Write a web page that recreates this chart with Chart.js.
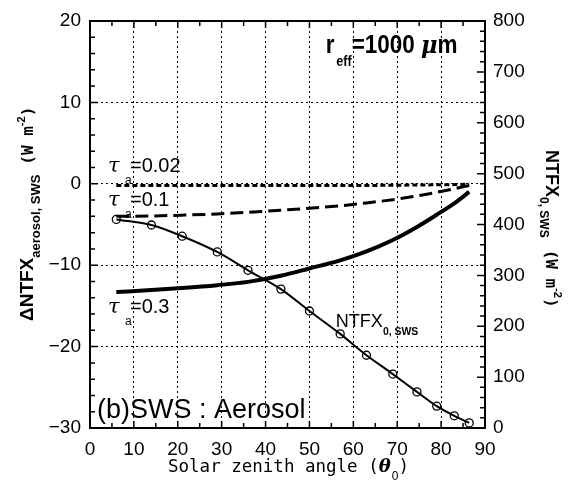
<!DOCTYPE html>
<html>
<head>
<meta charset="utf-8">
<script src="https://cdn.jsdelivr.net/npm/chart.js@4.4.0/dist/chart.umd.min.js"></script>
<style>
  html, body { margin: 0; padding: 0; background: #fff; }
  canvas { display: block; }
</style>
</head>
<body>
<canvas id="aerosol_plot" width="573" height="490"></canvas>
<script>
'use strict';

// solar zenith angles (deg) of the computed points
const angles = [6, 14, 21, 29, 36, 43.5, 50, 57, 63, 69, 74.5, 79, 83, 86.4];
// NTFX_0,SWS on right axis (W m-2)
const ntfx0 = [410, 399, 377, 346, 310, 273, 230, 185, 143, 106, 71, 43, 24, 10];
// delta NTFX (W m-2) for each aerosol optical thickness
const dTau002 = [-0.2, -0.2, -0.2, -0.2, -0.2, -0.2, -0.2, -0.2, -0.2, -0.18, -0.15, -0.12, -0.1, -0.05];
const dTau01 = [-4.0, -3.95, -3.85, -3.7, -3.5, -3.25, -3.0, -2.7, -2.35, -1.95, -1.5, -1.05, -0.6, -0.2];
const dTau03 = [-13.3, -13.05, -12.8, -12.45, -12.05, -11.3, -10.4, -9.4, -8.3, -6.9, -5.3, -3.8, -2.4, -1.0];

const xTicks = [0, 10, 20, 30, 40, 50, 60, 70, 80, 90];
const leftTicks = [-30, -20, -10, 0, 10, 20];
const rightTicks = [0, 100, 200, 300, 400, 500, 600, 700, 800];

const pts = (ys) => angles.map((a, i) => ({ x: a, y: ys[i] }));
const tickFont = { family: 'Liberation Sans', size: 19 };

// grid only on inner tick values
const innerGrid = (lo, hi) => (ctx) =>
    (ctx.tick && (ctx.tick.value === lo || ctx.tick.value === hi)) ? 'rgba(0,0,0,0)' : '#000';

function richText(ctx, x, y, rot, segs, sx) {
    ctx.save();
    ctx.translate(x, y);
    ctx.rotate(rot);
    ctx.scale(sx || 1, 1);
    ctx.fillStyle = '#000';
    ctx.textBaseline = 'alphabetic';
    ctx.textAlign = 'left';
    let cx = 0;
    segs.forEach(s => {
        ctx.font = s.f;
        if (s.x !== undefined) cx = s.x;
        ctx.fillText(s.t, cx, s.dy || 0);
        cx += ctx.measureText(s.t).width + (s.gap || 0);
    });
    ctx.restore();
}

const decorPlugin = {
    id: 'decor',
    afterDraw(chart) {
        const ctx = chart.ctx;
        const { x, y, y1 } = chart.scales;
        const area = chart.chartArea;

        // inward minor / major ticks
        ctx.save();
        ctx.strokeStyle = '#000';
        ctx.lineWidth = 1.5;
        ctx.beginPath();
        for (let v = 5; v < 90; v += 5) {
            const px = x.getPixelForValue(v);
            const len = v % 10 === 0 ? 7 : 5;
            ctx.moveTo(px, area.bottom); ctx.lineTo(px, area.bottom - len);
            ctx.moveTo(px, area.top); ctx.lineTo(px, area.top + len);
        }
        for (let v = -28; v < 20; v += 2) {
            const py = y.getPixelForValue(v);
            const len = v % 10 === 0 ? 8 : 5;
            ctx.moveTo(area.left, py); ctx.lineTo(area.left + len, py);
        }
        for (let v = 20; v < 800; v += 20) {
            const py = y1.getPixelForValue(v);
            const len = v % 100 === 0 ? 8 : 5;
            ctx.moveTo(area.right, py); ctx.lineTo(area.right - len, py);
        }
        ctx.stroke();
        ctx.restore();

        const at = (xv, yv) => [x.getPixelForValue(xv), y.getPixelForValue(yv)];
        const tau = 'italic 21px "DejaVu Serif"';
        const sub = '12px "Liberation Sans"';
        const num = '20px "Liberation Sans"';

        let p = at(4.1, 1.45);
        richText(ctx, p[0], p[1], 0, [
            { t: 'τ', f: tau }, { t: 'a', f: sub, x: 17, dy: 12 }, { t: '=0.02', f: num, x: 22 }]);
        p = at(4.1, -2.75);
        richText(ctx, p[0], p[1], 0, [
            { t: 'τ', f: tau }, { t: 'a', f: sub, x: 17, dy: 12 }, { t: '=0.1', f: num, x: 22 }]);
        p = at(4.1, -15.85);
        richText(ctx, p[0], p[1], 0, [
            { t: 'τ', f: tau }, { t: 'a', f: sub, x: 17, dy: 12 }, { t: '=0.3', f: num, x: 22 }]);

        p = at(56, -17.6);
        richText(ctx, p[0], p[1], 0, [
            { t: 'NTFX', f: '19px "Liberation Sans"' },
            { t: '0, SWS', f: 'bold 11px "Liberation Sans"', dy: 8 }], 0.95);

        p = at(53.7, 16.1);
        richText(ctx, p[0], p[1], 0, [
            { t: 'r', f: 'bold 25px "Liberation Sans"', gap: 2 },
            { t: 'eff', f: 'bold 14px "Liberation Sans"', dy: 13, gap: 0 },
            { t: '=1000 ', f: 'bold 25px "Liberation Sans"' },
            { t: 'μ', f: 'italic bold 25px "DejaVu Serif"' },
            { t: 'm', f: 'bold 25px "Liberation Sans"' }], 0.9);

        p = at(1.6, -28.8);
        richText(ctx, p[0], p[1], 0, [{ t: '(b)SWS : Aerosol', f: '27px "Liberation Sans"' }]);

        // axis titles
        richText(ctx, 33, 321, -Math.PI / 2, [
            { t: 'ΔNTFX', f: 'bold 19px "Liberation Sans"' },
            { t: 'aerosol, SWS', f: 'bold 13px "Liberation Sans"', dy: 7, gap: 10 },
            { t: '(W m', f: 'bold 16px "DejaVu Sans Mono"' },
            { t: '-2', f: 'bold 11px "Liberation Sans"', dy: -8 },
            { t: ')', f: 'bold 16px "DejaVu Sans Mono"' }]);

        richText(ctx, 546, 150, Math.PI / 2, [
            { t: 'NTFX', f: 'bold 18px "Liberation Sans"' },
            { t: '0, SWS', f: 'bold 12px "Liberation Sans"', dy: 6, gap: 12 },
            { t: '(W m', f: 'bold 16px "DejaVu Sans Mono"' },
            { t: '-2', f: 'bold 11px "Liberation Sans"', dy: -8 },
            { t: ')', f: 'bold 16px "DejaVu Sans Mono"' }]);

        richText(ctx, 168, 472, 0, [
            { t: 'Solar zenith angle (', f: '17.5px "DejaVu Sans Mono"' },
            { t: 'θ', f: 'italic bold 18px "DejaVu Serif"', gap: 1 },
            { t: '0', f: '12px "Liberation Sans"', dy: 8 },
            { t: ')', f: '17.5px "DejaVu Sans Mono"' }]);
    }
};

new Chart(document.getElementById('aerosol_plot').getContext('2d'), {
    type: 'line',
    data: {
        datasets: [{
            data: pts(dTau03),
            yAxisID: 'y',
            borderColor: '#000',
            borderWidth: 4,
            pointRadius: 0,
            cubicInterpolationMode: 'monotone'
        }, {
            data: pts(dTau01),
            yAxisID: 'y',
            borderColor: '#000',
            borderWidth: 3,
            borderDash: [13, 6],
            pointRadius: 0,
            cubicInterpolationMode: 'monotone'
        }, {
            data: pts(dTau002),
            yAxisID: 'y',
            borderColor: '#000',
            borderWidth: 3,
            borderDash: [5, 3],
            pointRadius: 0,
            cubicInterpolationMode: 'monotone'
        }, {
            data: pts(ntfx0),
            yAxisID: 'y1',
            borderColor: '#000',
            borderWidth: 2,
            pointRadius: 4,
            pointBorderWidth: 1.3,
            pointBorderColor: '#000',
            pointBackgroundColor: 'rgba(0,0,0,0)',
            cubicInterpolationMode: 'monotone'
        }]
    },
    options: {
        responsive: false,
        animation: false,
        layout: { padding: 0 },
        plugins: {
            legend: { display: false },
            tooltip: { enabled: false }
        },
        scales: {
            x: {
                type: 'linear',
                position: 'bottom',
                min: 0,
                max: 90,
                afterFit: s => { s.height = 62; },
                afterBuildTicks: s => { s.ticks = xTicks.map(v => ({ value: v })); },
                ticks: { font: tickFont, color: '#000', padding: 10, maxRotation: 0 },
                grid: { color: innerGrid(0, 90), lineWidth: 1, drawTicks: false },
                border: { color: '#000', width: 2, dash: [2, 3] }
            },
            x2: {
                type: 'linear',
                position: 'top',
                min: 0,
                max: 90,
                afterFit: s => { s.height = 21; },
                ticks: { display: false },
                grid: { display: false, drawTicks: false },
                border: { color: '#000', width: 2 }
            },
            y: {
                type: 'linear',
                position: 'left',
                min: -30,
                max: 20,
                afterFit: s => { s.width = 90; },
                afterBuildTicks: s => { s.ticks = leftTicks.map(v => ({ value: v })); },
                ticks: {
                    font: tickFont, color: '#000', padding: 9,
                    callback: v => String(v).replace('-', '\u2212')
                },
                grid: { color: innerGrid(-30, 20), lineWidth: 1, drawTicks: false },
                border: { color: '#000', width: 2, dash: [2, 3] }
            },
            y1: {
                type: 'linear',
                position: 'right',
                min: 0,
                max: 800,
                afterFit: s => { s.width = 88; },
                afterBuildTicks: s => { s.ticks = rightTicks.map(v => ({ value: v })); },
                ticks: { font: tickFont, color: '#000', padding: 8 },
                grid: { display: false, drawTicks: false },
                border: { color: '#000', width: 2 }
            }
        }
    },
    plugins: [decorPlugin]
});
</script>
</body>
</html>
